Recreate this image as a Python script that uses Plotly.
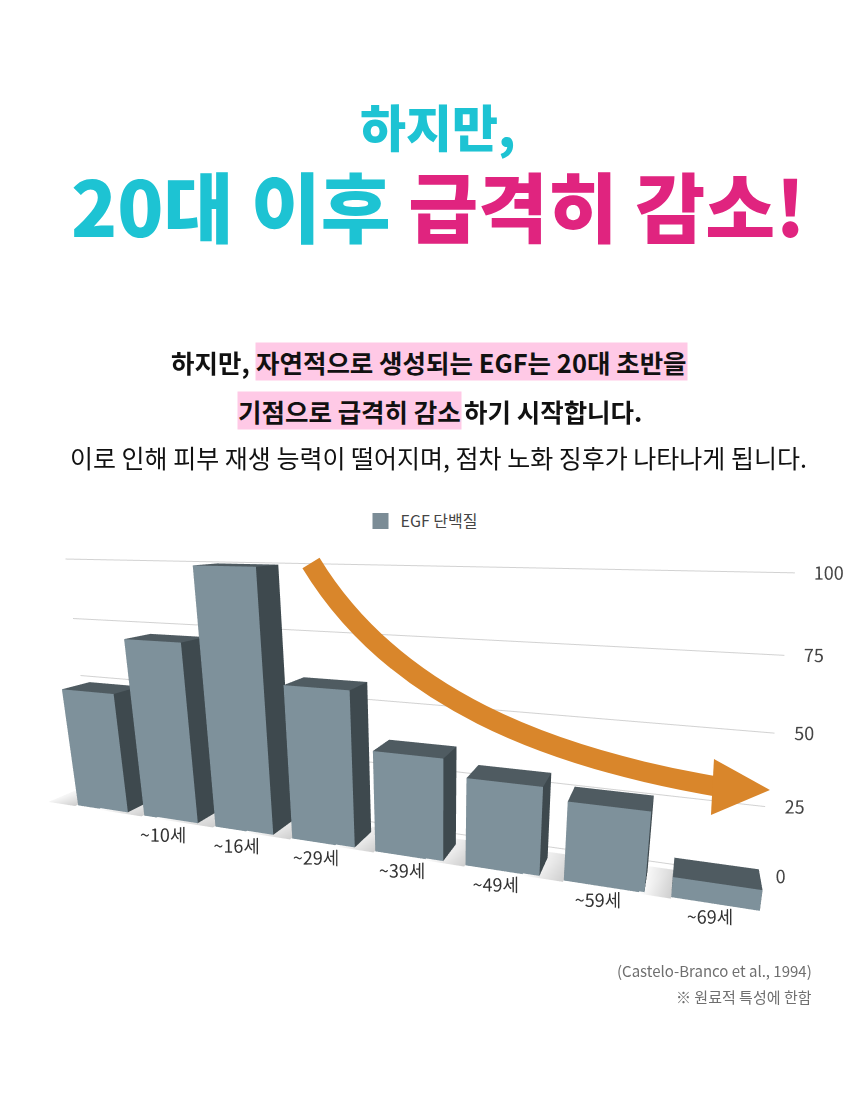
import numpy as np
import plotly.graph_objects as go

W, H = 860, 1100

# ---- data ----
ages = ["", "~10세", "~16세", "~29세", "~39세", "~49세", "~59세", "~69세"]
egf = [50, 72, 100, 59, 38, 32, 28, 7]
ticks = [0, 25, 50, 75, 100]
tick_labels = ["0", "25", "50", "75", "100"]

FONT = "Noto Sans CJK KR"
CYAN = "#1dc3d3"
PINK = "#e0247f"
ORANGE = "#d9862b"
HIGHLIGHT = "#ffc9e6"

FRONT = "#7e919b"
SIDE = "#3e494e"
TOP = "#4f5b61"
LEFT = "#67777f"


def paper(x, y):
    """pixel position -> paper fraction (no margins)"""
    return x / W, 1 - y / H


# ---- bars as boxes in a 3D scene ----
bx, by, bz, ii, jj, kk, fcol = [], [], [], [], [], [], []
half = 0.38
depth = 0.45
for n, v in enumerate(egf):
    x0, x1 = n - half, n + half
    base = len(bx)
    corners = [(x0, 0, 0), (x1, 0, 0), (x1, depth, 0), (x0, depth, 0),
               (x0, 0, v), (x1, 0, v), (x1, depth, v), (x0, depth, v)]
    for cx, cy, cz in corners:
        bx.append(cx)
        by.append(cy)
        bz.append(cz)
    quads = [((0, 1, 5, 4), FRONT), ((1, 2, 6, 5), SIDE), ((4, 5, 6, 7), TOP),
             ((0, 3, 7, 4), LEFT), ((3, 2, 6, 7), SIDE), ((0, 1, 2, 3), SIDE)]
    for (a, b, c, d), col in quads:
        ii += [base + a, base + a]
        jj += [base + b, base + c]
        kk += [base + c, base + d]
        fcol += [col, col]

# soft floor shadow to the left of every bar
sx, sy, sz, si, sj, sk, scol = [], [], [], [], [], [], []
for n, v in enumerate(egf):
    x1 = n - half
    x0 = x1 - (0.25 + v / 180)
    base = len(sx)
    for cx, cy, c in [(x0, -0.05, "#ffffff"), (x1, -0.05, "#cfcfcf"),
                      (x1, depth + 0.15, "#d9d9d9"), (x0, depth + 0.15, "#ffffff")]:
        sx.append(cx)
        sy.append(cy)
        sz.append(0.3)
        scol.append(c)
    si += [base, base]
    sj += [base + 1, base + 2]
    sk += [base + 2, base + 3]

fig = go.Figure()

# back-wall gridlines
back = 0.75
for t in ticks:
    fig.add_trace(go.Scatter3d(
        x=[-0.9, 7.4], y=[back, back], z=[t, t],
        mode="lines", line=dict(color="#d2d2d2", width=2),
        hoverinfo="skip", showlegend=False))

fig.add_trace(go.Scatter3d(
    x=[7.42] * len(ticks), y=[back] * len(ticks), z=ticks,
    mode="text", text=tick_labels, textposition="middle right",
    textfont=dict(family=FONT, size=18, color="#444444"),
    hoverinfo="skip", showlegend=False))

fig.add_trace(go.Mesh3d(
    x=sx, y=sy, z=sz, i=si, j=sj, k=sk, vertexcolor=scol,
    lighting=dict(ambient=1, diffuse=0, specular=0, roughness=1, fresnel=0),
    hoverinfo="skip", showlegend=False))

fig.add_trace(go.Mesh3d(
    x=bx, y=by, z=bz, i=ii, j=jj, k=kk, facecolor=fcol,
    flatshading=True,
    lighting=dict(ambient=1, diffuse=0, specular=0, roughness=1, fresnel=0),
    hoverinfo="skip", showlegend=False))

fig.add_trace(go.Scatter3d(
    x=[n - 0.06 for n in range(len(ages))], y=[-0.05] * len(ages), z=[5] * len(ages),
    mode="text", text=ages, textposition="bottom center",
    textfont=dict(family=FONT, size=18, color="#333333"),
    hoverinfo="skip", showlegend=False))

# legend entry
fig.add_trace(go.Scatter(
    x=[None], y=[None], mode="markers", name="EGF 단백질",
    marker=dict(symbol="square", size=16, color="#7b8c96")))

axis3d = dict(visible=False, showbackground=False, showgrid=False,
              zeroline=False, showspikes=False)
fig.update_layout(
    width=W, height=H,
    margin=dict(l=0, r=0, t=0, b=0),
    paper_bgcolor="white", plot_bgcolor="white",
    font=dict(family=FONT, color="#222222"),
    xaxis=dict(visible=False), yaxis=dict(visible=False),
    scene=dict(
        domain=dict(x=[0, 1], y=[1 - 1014 / H, 1 - 414 / H]),
        xaxis=dict(range=[-0.8, 9.2], **axis3d),
        yaxis=dict(range=[-0.6, 1.8], **axis3d),
        zaxis=dict(range=[-22, 112], **axis3d),
        aspectmode="manual",
        aspectratio=dict(x=2.72, y=0.62, z=1.07),
        camera=dict(eye=dict(x=0.64, y=-1.91, z=0.55),
                    center=dict(x=-0.02, y=0, z=0),
                    projection=dict(type="perspective")),
        bgcolor="rgba(0,0,0,0)",
    ),
    showlegend=True,
    legend=dict(orientation="h", x=414 / W, xanchor="center", y=1 - 513 / H,
                yanchor="middle", font=dict(size=16, color="#444444"),
                itemsizing="trace"),
)

# curved arrow (decoration) drawn over the chart area
def pp(x, y):
    a, b = paper(x, y)
    return f"{a:.4f},{b:.4f}"

fig.add_shape(type="path", xref="paper", yref="paper",
              path=f"M {pp(303, 555)} C {pp(385, 690)} {pp(540, 750)} {pp(712, 779)}",
              line=dict(color=ORANGE, width=20), fillcolor="rgba(0,0,0,0)")
fig.add_shape(type="path", xref="paper", yref="paper",
              path=f"M {pp(706, 751)} L {pp(762, 782)} L {pp(703, 807)} Z",
              line=dict(color=ORANGE, width=0), fillcolor=ORANGE)


def note(text, x, y, size, color, xanchor="center", **kw):
    fig.add_annotation(text=text, x=x / W, y=1 - y / H, xref="paper", yref="paper",
                       xanchor=xanchor, yanchor="middle", showarrow=False,
                       font=dict(size=size, color=color, family=FONT, weight=kw.pop("weight", 400)),
                       **kw)


# headline
note("하지만,", 430, 117, 50, CYAN, weight=900)
note(f"<span style='color:{CYAN}'>20대 이후</span> <span style='color:{PINK}'>급격히 감소!</span>",
     430, 196, 76, CYAN, weight=900)

# paragraph with highlights
note("하지만,", 244, 353, 25.5, "#111111", xanchor="right", weight=700)
note("자연적으로 생성되는 EGF는 20대 초반을", 247, 353, 25.5, "#111111", xanchor="left",
     weight=700, bgcolor=HIGHLIGHT, borderpad=0)
note("기점으로 급격히 감소", 454, 402, 25.5, "#111111", xanchor="right",
     weight=700, bgcolor=HIGHLIGHT, borderpad=0)
note("하기 시작합니다.", 454, 402, 25.5, "#111111", xanchor="left", weight=700)
note("이로 인해 피부 재생 능력이 떨어지며, 점차 노화 징후가 나타나게 됩니다.", 430, 449, 25, "#111111")

# source notes
note("(Castelo-Branco et al., 1994)", 806, 962, 15, "#6f6f6f", xanchor="right")
note("※ 원료적 특성에 한함", 806, 988, 15, "#6f6f6f", xanchor="right")

fig.write_html("out.html")
